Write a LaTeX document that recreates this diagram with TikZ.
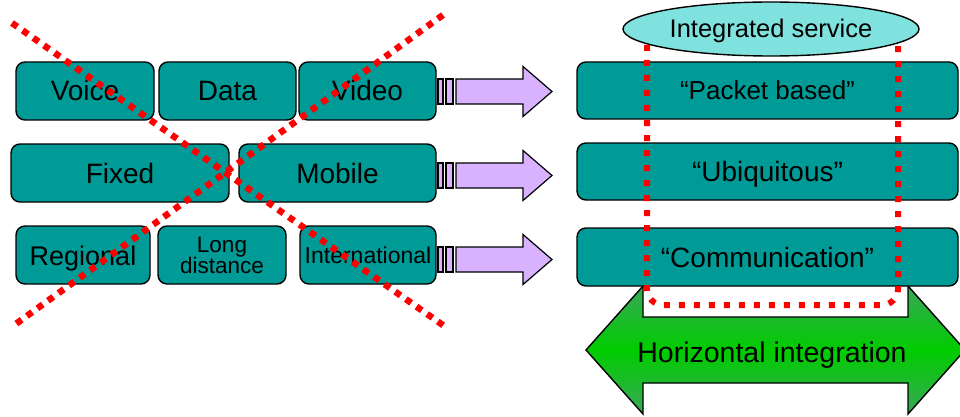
\documentclass[tikz,border=0pt]{standalone}
\usepackage{fontspec}
\setmainfont{Liberation Sans}
\usetikzlibrary{shapes.geometric}
\definecolor{boxteal}{RGB}{0,155,150}
\definecolor{svccyan}{RGB}{128,226,222}
\definecolor{arrowlilac}{RGB}{216,178,255}
\definecolor{greenedge}{RGB}{58,168,88}
\definecolor{greenmid}{RGB}{0,204,0}

\begin{document}
\begin{tikzpicture}[x=1pt,y=-1pt,
  box/.style={draw=black,line width=1.4pt,fill=boxteal,rounded corners=9pt,
    minimum height=58pt,inner sep=0pt,text height=20pt,text depth=0pt,
    font=\fontsize{28}{30}\selectfont},
  stripe/.style={draw=black,line width=1.2pt,fill=arrowlilac},
  cross/.style={red,line width=6.5pt,dash pattern=on 6.5pt off 6.5pt},
  redloop/.style={red,line width=6pt,dash pattern=on 6pt off 9pt}]
\useasboundingbox (0,0) rectangle (960,417);
\clip (0,0) rectangle (960,417);

% old vertical services
\node[box,minimum width=138pt] (voice) at (85,91) {Voice};
\node[box,minimum width=137pt] (data) at (227.5,91) {Data};
\node[box,minimum width=137pt] (video) at (367.5,91) {Video};
\node[box,minimum width=218pt] (fixed) at (120,173) {Fixed};
\node[box,minimum width=197pt] (mobile) at (337.5,173) {Mobile};
\node[box,minimum width=134pt,font=\fontsize{27}{30}\selectfont] (regional) at (83,255) {Regional};
\node[box,minimum width=128pt,text height=,text depth=,align=center,
  font=\fontsize{22.5}{21}\selectfont] (longdist) at (222,255) {Long\\distance};
\node[box,minimum width=136pt,text height=16.5pt,font=\fontsize{23}{26}\selectfont] (intl) at (368,255) {International};

% crossed out
\coordinate (x1a) at (12,23);
\coordinate (x1b) at (447,328);
\coordinate (x2a) at (443,15);
\coordinate (x2b) at (13,326);
\draw[cross] (x1a) -- (x1b);
\draw[cross] (x2a) -- (x2b);

% striped arrows
\foreach \y in {91.5,175.5,259.5} {
  \draw[stripe] (438,\y-12.5) rectangle (443,\y+12.5);
  \draw[stripe] (446,\y-12.5) rectangle (453,\y+12.5);
  \draw[stripe] (456,\y-12.5) -- (523,\y-12.5) -- (523,\y-25) -- (552,\y)
    -- (523,\y+25) -- (523,\y+12.5) -- (456,\y+12.5) -- cycle;
}

% horizontal integration
\shadedraw[top color=greenedge,bottom color=greenedge,middle color=greenmid,line width=1.4pt]
  (586,350) -- (643,286) -- (643,317) -- (908,317) -- (908,286) -- (965,350)
  -- (908,414) -- (908,383) -- (643,383) -- (643,414) -- cycle;
\node[anchor=base,font=\fontsize{28.5}{30}\selectfont] (horiz) at (772,362) {Horizontal integration};

% new layers
\node[box,minimum width=381pt,minimum height=57pt,text height=18.5pt,
  font=\fontsize{26}{30}\selectfont] (packet) at (767.5,90.5) {“Packet based”};
\node[box,minimum width=381pt,minimum height=57pt] (ubiq) at (767.5,171.5) {“Ubiquitous”};
\node[box,minimum width=381pt] (comm) at (767.5,257) {“Communication”};

\draw[redloop,rounded corners=16pt] (647,30) -- (647,305) -- (898,305) -- (898,30);

\node[ellipse,draw=black,line width=1.4pt,fill=svccyan,minimum width=296pt,minimum height=54pt,
  inner sep=0pt,text height=18pt,text depth=0pt,font=\fontsize{25.5}{28}\selectfont] (svc) at (771,29) {Integrated service};
\end{tikzpicture}
\end{document}
